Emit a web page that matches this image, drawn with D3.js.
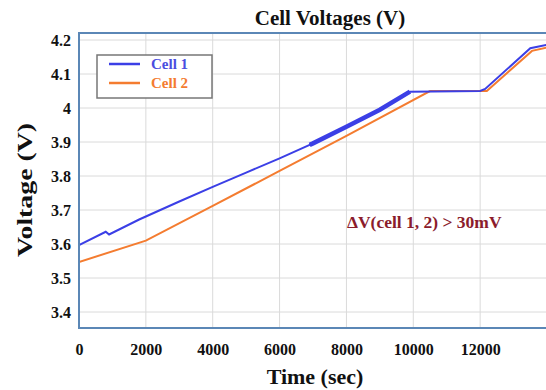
<!DOCTYPE html>
<html>
<head>
<meta charset="utf-8">
<script src="https://cdn.jsdelivr.net/npm/d3@7"></script>
<style>
  html, body { margin: 0; padding: 0; background: #fff; }
  svg { display: block; }
  text { font-family: "Liberation Serif", "DejaVu Serif", serif; font-weight: bold; }
</style>
</head>
<body>
<svg id="chart" width="546" height="390"></svg>
<script>
// Time samples (s) and measured voltages (V) for each cell
const timeCell1 = [0, 800, 900, 1800, 3000, 4000, 5000, 6000, 7000, 8000, 9000, 9900, 12000, 12150, 13500, 14000];
const voltCell1 = [3.597, 3.636, 3.628, 3.672, 3.725, 3.768, 3.81, 3.852, 3.896, 3.945, 3.995, 4.048, 4.05, 4.056, 4.176, 4.186];
const timeCell2 = [0, 2000, 4000, 6000, 8000, 10500, 12200, 13550, 14000];
const voltCell2 = [3.547, 3.61, 3.712, 3.815, 3.918, 4.05, 4.05, 4.168, 4.178];

const xTicks = [0, 2000, 4000, 6000, 8000, 10000, 12000];
const yTicks = [3.4, 3.5, 3.6, 3.7, 3.8, 3.9, 4.0, 4.1, 4.2];
const seriesNames = ["Cell 1", "Cell 2"];
const annotationText = "\u0394V(cell 1, 2) > 30mV";
// interval where the Cell 1 trace is noisy (drawn heavier)
const noisyWindow = [6900, 9900];

const colors = { cell1: "#3b3fe6", cell2: "#f47c30", frame: "#5b87b6", grid: "#dadada" };

const svg = d3.select("#chart");
const plot = { left: 79, right: 548, top: 33, bottom: 328 };

const x = d3.scaleLinear().domain([0, 14000]).range([plot.left, 547]);
const y = d3.scaleLinear().domain([3.4, 4.2]).range([312, 40]);

svg.append("defs").append("clipPath").attr("id", "plotClip")
  .append("rect")
  .attr("x", plot.left).attr("y", plot.top)
  .attr("width", plot.right - plot.left).attr("height", plot.bottom - plot.top);

// grid lines
const grid = svg.append("g");
grid.selectAll("line.h").data(yTicks).join("line")
  .attr("x1", plot.left).attr("x2", plot.right)
  .attr("y1", d => y(d)).attr("y2", d => y(d))
  .attr("stroke", colors.grid).attr("stroke-width", 1);
grid.selectAll("line.v").data(xTicks.concat([14000]).filter(d => d > 0)).join("line")
  .attr("x1", d => x(d)).attr("x2", d => x(d))
  .attr("y1", plot.top).attr("y2", plot.bottom)
  .attr("stroke", colors.grid).attr("stroke-width", 1);

// axes (labels only)
const xAxis = svg.append("g")
  .attr("transform", `translate(0,${plot.bottom})`)
  .call(d3.axisBottom(x).tickValues(xTicks).tickSize(0).tickPadding(16).tickFormat(d3.format("d")));
xAxis.select(".domain").remove();
xAxis.selectAll("text").attr("font-size", 16).attr("fill", "#111")
  .attr("font-family", "Liberation Serif").attr("font-weight", "bold");

const yAxis = svg.append("g")
  .attr("transform", `translate(${plot.left},0)`)
  .call(d3.axisLeft(y).tickValues(yTicks).tickSize(0).tickPadding(8).tickFormat(d => String(+d.toFixed(1))));
yAxis.select(".domain").remove();
yAxis.selectAll("text").attr("font-size", 16).attr("fill", "#111")
  .attr("font-family", "Liberation Serif").attr("font-weight", "bold");

// series
const line = d3.line().x(d => x(d[0])).y(d => y(d[1]));
const pts1 = d3.zip(timeCell1, voltCell1);
const pts2 = d3.zip(timeCell2, voltCell2);
const lines = svg.append("g").attr("clip-path", "url(#plotClip)");
lines.append("path").datum(pts2).attr("d", line)
  .attr("fill", "none").attr("stroke", colors.cell2).attr("stroke-width", 2);
lines.append("path").datum(pts1).attr("d", line)
  .attr("fill", "none").attr("stroke", colors.cell1).attr("stroke-width", 2);

// heavier stroke over the noisy window
const interp1 = d3.scaleLinear().domain(timeCell1).range(voltCell1);
const noisy = [[noisyWindow[0], interp1(noisyWindow[0])]]
  .concat(pts1.filter(d => d[0] > noisyWindow[0] && d[0] <= noisyWindow[1]));
lines.append("path").datum(noisy).attr("d", line)
  .attr("fill", "none").attr("stroke", colors.cell1).attr("stroke-width", 4.5);

// frame
svg.append("rect")
  .attr("x", plot.left).attr("y", plot.top)
  .attr("width", plot.right - plot.left).attr("height", plot.bottom - plot.top)
  .attr("fill", "none").attr("stroke", colors.frame).attr("stroke-width", 2);

// legend
const legend = svg.append("g");
legend.append("rect").attr("x", 97).attr("y", 55).attr("width", 115).attr("height", 43)
  .attr("fill", "#fff").attr("stroke", "#777").attr("stroke-width", 1.5);
[colors.cell1, colors.cell2].forEach((c, i) => {
  const ly = 64 + i * 19;
  legend.append("line").attr("x1", 109).attr("x2", 140).attr("y1", ly).attr("y2", ly)
    .attr("stroke", c).attr("stroke-width", 2.5);
  legend.append("text").attr("x", 151).attr("y", ly + 5).attr("font-size", 15)
    .attr("fill", i === 0 ? "#4a4ee0" : "#f47c30").text(seriesNames[i]);
});

// annotation
svg.append("text").attr("x", 347).attr("y", 228).attr("font-size", 17.5)
  .attr("fill", "#8b1c2c").text(annotationText);

// titles
svg.append("text").attr("x", 330).attr("y", 25).attr("text-anchor", "middle")
  .attr("font-size", 21).attr("fill", "#111").text("Cell Voltages (V)");
svg.append("text").attr("x", 315).attr("y", 384).attr("text-anchor", "middle")
  .attr("font-size", 22).attr("fill", "#111").text("Time (sec)");
svg.append("text").attr("transform", "translate(32,190) rotate(-90)").attr("text-anchor", "middle")
  .attr("font-size", 21).attr("fill", "#111")
  .attr("textLength", 134).attr("lengthAdjust", "spacingAndGlyphs").text("Voltage (V)");
</script>
</body>
</html>
